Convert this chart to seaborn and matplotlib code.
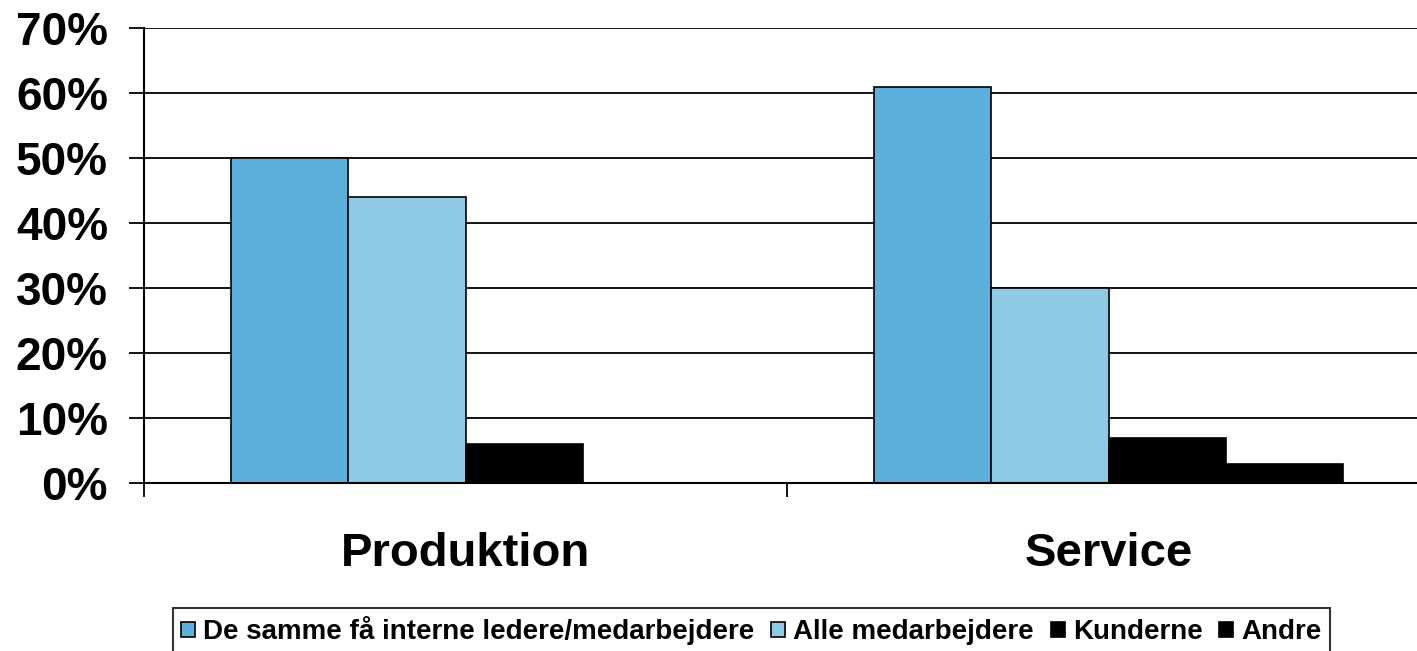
import pandas as pd
import matplotlib
matplotlib.use("Agg")
import matplotlib.pyplot as plt
import matplotlib.ticker as mticker
import seaborn as sns

categories = ["Produktion", "Service"]
series = ["De samme få interne ledere/medarbejdere", "Alle medarbejdere", "Kunderne", "Andre"]
produktion_vals = [0.50, 0.44, 0.06, 0.00]
service_vals = [0.61, 0.30, 0.07, 0.03]
y_ticks = [0, 0.1, 0.2, 0.3, 0.4, 0.5, 0.6, 0.7]

colors = ["#5BB1DC", "#8ECAE6", "#000000", "#000000"]

rows = []
for cat, vals in zip(categories, [produktion_vals, service_vals]):
    for s, v in zip(series, vals):
        rows.append({"Kategori": cat, "Gruppe": s, "Andel": v})
data = pd.DataFrame(rows)

sns.set_style("white")
plt.rcParams["font.family"] = ["Liberation Sans", "DejaVu Sans"]
plt.rcParams["font.weight"] = "bold"
plt.rcParams["text.color"] = "black"
plt.rcParams["xtick.color"] = "black"
plt.rcParams["ytick.color"] = "black"

W, H = 1417, 651
fig = plt.figure(figsize=(W / 100, H / 100), dpi=100)
ax = fig.add_axes([144 / W, 1 - 483 / H, (1430 - 144) / W, (483 - 28) / H])

sns.barplot(
    data=data,
    x="Kategori",
    y="Andel",
    hue="Gruppe",
    order=categories,
    hue_order=series,
    palette=colors,
    saturation=1,
    width=0.73,
    edgecolor="black",
    linewidth=1.2,
    ax=ax,
    legend=True,
)

ax.set_xlim(-0.5, 1.5)
ax.set_ylim(0, 0.7)
ax.set_yticks(y_ticks)
ax.yaxis.set_major_formatter(mticker.FuncFormatter(lambda v, p: f"{round(v * 100)}%"))
ax.yaxis.grid(True, color="black", linewidth=1.3)
ax.set_axisbelow(True)
ax.set_xlabel("")
ax.set_ylabel("")

for side in ["right", "top"]:
    ax.spines[side].set_visible(False)
for side in ["left", "bottom"]:
    ax.spines[side].set_color("black")
    ax.spines[side].set_linewidth(1.5)

ax.tick_params(axis="y", which="major", left=True, length=11, width=1.3, color="black",
               labelcolor="black", direction="out", labelsize=33, pad=15)
ax.tick_params(axis="x", which="major", bottom=False, labelcolor="black", labelsize=34, pad=32)
ax.set_xticks([-0.5, 0.5], minor=True)
ax.tick_params(axis="x", which="minor", bottom=True, length=10, width=1.3, color="black",
               direction="out")
for lbl in ax.get_xticklabels() + ax.get_yticklabels():
    lbl.set_fontweight("bold")

handles, labels = ax.get_legend_handles_labels()
ax.get_legend().remove()
leg = fig.legend(
    handles, labels,
    loc="upper center",
    bbox_to_anchor=((169 + 1334) / 2 / W, 1 - 608 / H),
    ncol=4,
    frameon=True,
    fancybox=False,
    edgecolor="black",
    handlelength=0.5,
    handleheight=0.5,
    handletextpad=0.3,
    columnspacing=0.6,
    borderpad=0.3,
    borderaxespad=0,
    labelcolor="black",
    prop={"size": 20, "weight": "bold"},
)
leg.get_frame().set_linewidth(1.5)

fig.savefig("out.png", dpi=100)
